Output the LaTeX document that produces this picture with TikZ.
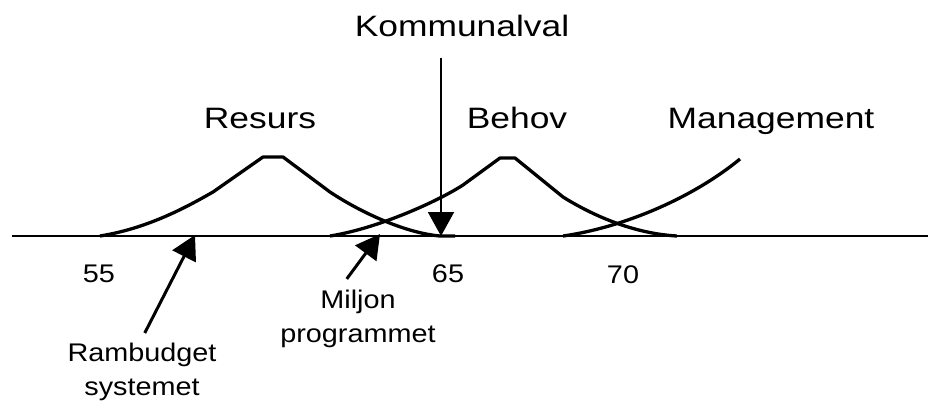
\documentclass[tikz,border=0pt]{standalone}
\usepackage{fontspec}
\setmainfont{Liberation Sans}
\newfontfamily\widebig{Liberation Sans}[FakeStretch=1.2]
\newfontfamily\widesmall{Liberation Sans}[FakeStretch=1.13]
\usetikzlibrary{arrows.meta}
\begin{document}
\begin{tikzpicture}
[
    x=1pt, y=-1pt,
    curve/.style={line width=3.3pt, line join=round},
    heading/.style={font=\widebig\fontsize{29.5}{36}\selectfont, inner sep=0pt, anchor=base},
    tick/.style={font=\widesmall\fontsize{25.5}{35}\selectfont, inner sep=0pt, anchor=base},
    note/.style={font=\widesmall\fontsize{25.5}{34}\selectfont, align=center, inner sep=4pt, anchor=base},
    pointer/.style={line width=3pt, -{Triangle[length=24pt,width=26pt]}}
]
    \useasboundingbox (0,0) rectangle (928,402);
    \node [heading] (kommunalval) at (462,36) {Kommunalval};
    \node [heading] (resurs) at (260,128) {Resurs};
    \node [heading] (behov) at (517,128) {Behov};
    \node [heading] (management) at (771,128) {Management};
    \node [tick] (n55) at (99,282) {55};
    \node [tick] (n65) at (448,282) {65};
    \node [tick] (n70) at (623,283) {70};
    \node [note] (miljon) at (358,342) {Miljon\\programmet};
    \node [note] (rambudget) at (142,395) {Rambudget\\systemet};
    \coordinate (axisstart) at (12,236);
    \coordinate (axisend) at (928,236);
    \coordinate (vote) at (441,236);
    \coordinate (rb) at (195,235);
    \coordinate (mp) at (380,234);
    \draw [line width=2.3pt] (axisstart) -- (axisend);
    \draw [curve] (100,236) .. controls (150,228) and (190,205) .. (213,192)
        -- (263,157) -- (283,157) -- (330,192)
        .. controls (360,212) and (405,233) .. (440,236) -- (455,236);
    \draw [curve] (330,236) .. controls (380,228) and (440,200) .. (463,185)
        -- (500,158) -- (515,158) -- (563,197)
        .. controls (600,220) and (640,234) .. (677,236);
    \draw [curve] (563,236) .. controls (620,228) and (690,200) .. (740,159);
    \draw [line width=2pt, -{Triangle[length=24pt,width=26pt]}, shorten <=22pt]
        (kommunalval.base -| vote) -- (vote);
    \draw [pointer, shorten <=6pt] (rambudget.north) -- (rb);
    \draw [pointer, shorten <=8pt] ([xshift=-16pt]miljon.north) -- (mp);
\end{tikzpicture}
\end{document}
